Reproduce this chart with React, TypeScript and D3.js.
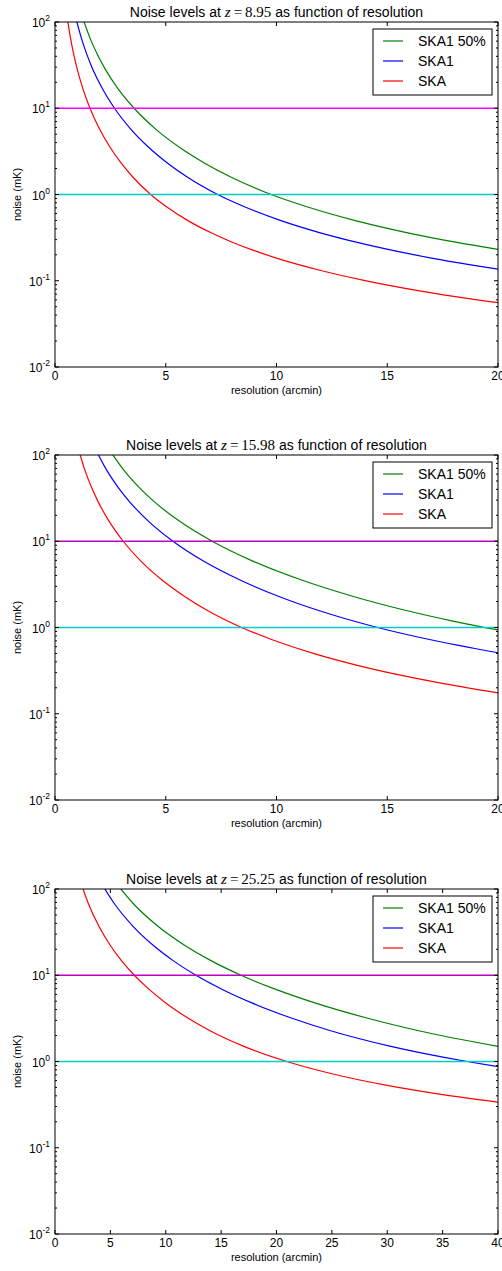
import React from 'react';
import * as d3 from 'd3';

type Pt = [number, number];

// z = 8.95
const p1Green: Pt[] = [[1.243, 113.2], [1.582, 65.0], [1.921, 41.6], [2.26, 28.6], [2.825, 17.13], [3.571, 10.0], [4.52, 5.81], [5.65, 3.48], [6.78, 2.29], [7.91, 1.606], [9.763, 1.0], [11.3, 0.7305], [13.56, 0.498], [15.82, 0.3643], [18.08, 0.28], [20, 0.2305]];
const p1Blue: Pt[] = [[0.935, 113.2], [1.19, 65.0], [1.445, 41.6], [1.7, 28.6], [2.125, 17.13], [2.686, 10.0], [3.4, 5.81], [4.25, 3.48], [5.1, 2.29], [5.95, 1.606], [7.344, 1.0], [8.5, 0.7305], [10.2, 0.498], [11.9, 0.3643], [13.6, 0.28], [15.3, 0.2232], [17.0, 0.1832], [18.7, 0.1537], [20, 0.136]];
const p1Red: Pt[] = [[0.55, 113.2], [0.7, 65.0], [0.85, 41.6], [1, 28.6], [1.25, 17.13], [1.58, 10.0], [2, 5.81], [2.5, 3.48], [3, 2.29], [3.5, 1.606], [4.32, 1.0], [5, 0.7305], [6, 0.498], [7, 0.3643], [8, 0.28], [9, 0.2232], [10, 0.1832], [11, 0.1537], [12, 0.1314], [14, 0.1003], [16, 0.08], [18, 0.0659], [20, 0.0557]];

// z = 15.98
const p2Green: Pt[] = [[2.47, 113.2], [3.143, 65.0], [3.817, 41.6], [4.49, 28.6], [5.613, 17.13], [7.094, 10.0], [8.98, 5.81], [11.23, 3.48], [13.47, 2.29], [15.72, 1.606], [17.96, 1.188], [20, 0.9376]];
const p2Blue: Pt[] = [[1.854, 113.2], [2.359, 65.0], [2.865, 41.6], [3.37, 28.6], [4.213, 17.13], [5.325, 10.0], [6.74, 5.81], [8.425, 3.48], [10.11, 2.29], [11.8, 1.606], [13.48, 1.188], [14.56, 1.0], [16.85, 0.7305], [20, 0.5096]];
const p2Red: Pt[] = [[1.073, 113.2], [1.365, 65.0], [1.658, 41.6], [1.95, 28.6], [2.438, 17.13], [3.081, 10.0], [3.9, 5.81], [4.875, 3.48], [5.85, 2.29], [6.825, 1.606], [8.424, 1.0], [9.75, 0.7305], [11.7, 0.498], [13.65, 0.3643], [15.6, 0.28], [17.55, 0.2232], [20, 0.1748]];

// z = 25.25
const p3Green: Pt[] = [[5.63, 112.0], [7.038, 68.4], [9.384, 36.2], [11.73, 22.12], [14.08, 14.78], [16.8, 10.0], [19.94, 6.85], [23.46, 4.78], [28.15, 3.196], [32.84, 2.274], [40, 1.5]];
const p3Blue: Pt[] = [[4.267, 112.0], [5.334, 68.4], [7.112, 36.2], [8.89, 22.12], [10.67, 14.78], [12.73, 10.0], [15.11, 6.85], [17.78, 4.78], [21.34, 3.196], [24.89, 2.274], [30.23, 1.508], [37.34, 0.994], [40, 0.874]];
const p3Red: Pt[] = [[2.4, 112.0], [3, 68.4], [4, 36.2], [5, 22.12], [6, 14.78], [7.16, 10.0], [8.5, 6.85], [10, 4.78], [12, 3.196], [14, 2.274], [17, 1.508], [21, 0.994], [25, 0.7216], [30, 0.528], [35, 0.413], [40, 0.338]];

const legendLabels = ['SKA1 50%', 'SKA1', 'SKA'];
const seriesColors = ['#008000', '#0000ff', '#ff0000'];
const yMajor = [0.01, 0.1, 1, 10, 100];
const yExp = ['-2', '-1', '0', '1', '2'];
const xTicks20 = [0, 5, 10, 15, 20];
const xTicks40 = [0, 5, 10, 15, 20, 25, 30, 35, 40];

const panels = [
  { top: 22, z: '8.95', xMax: 20, xTicks: xTicks20, series: [p1Green, p1Blue, p1Red], magenta: '#ff00ff', cyan: '#00cccc' },
  { top: 455, z: '15.98', xMax: 20, xTicks: xTicks20, series: [p2Green, p2Blue, p2Red], magenta: '#bf00bf', cyan: '#00cccc' },
  { top: 889, z: '25.25', xMax: 40, xTicks: xTicks40, series: [p3Green, p3Blue, p3Red], magenta: '#bf00bf', cyan: '#00cccc' },
];

const left = 55;
const right = 498;
const plotH = 345;
const font = '"Liberation Sans", Arial, sans-serif';
const mathFont = '"Liberation Serif", "DejaVu Serif", serif';

const Panel = ({ idx, top, z, xMax, xTicks, series, magenta, cyan }: any) => {
  const bottom = top + plotH;
  const x = d3.scaleLinear().domain([0, xMax]).range([left, right]);
  const y = d3.scaleLog().domain([0.01, 100]).range([bottom, top]);
  const line = d3.line<Pt>()
    .x((d) => x(d[0]))
    .y((d) => y(d[1]))
    .curve(d3.curveMonotoneX);

  const minor: number[] = [];
  [-2, -1, 0, 1].forEach((e) => {
    for (let k = 2; k <= 9; k++) minor.push(k * Math.pow(10, e));
  });

  const clipId = `clip${idx}`;
  const cx = (left + right) / 2;
  const lx = right - 125;
  const ly = top + 7;

  return (
    <g>
      <defs>
        <clipPath id={clipId}>
          <rect x={left} y={top} width={right - left} height={plotH} />
        </clipPath>
      </defs>
      <text x={cx} y={top - 5} textAnchor="middle" fontSize={14} fontFamily={font}>
        Noise levels at{' '}
        <tspan fontFamily={mathFont} fontStyle="italic" fontSize={15}>z</tspan>
        <tspan fontFamily={mathFont} fontSize={15}>{'\u2009=\u2009' + z}</tspan>
        {' '}as function of resolution
      </text>
      <g clipPath={`url(#${clipId})`}>
        {series.map((s: Pt[], i: number) => (
          <path key={i} d={line(s) || ''} fill="none" stroke={seriesColors[i]} strokeWidth={1.2} />
        ))}
        <line x1={left} x2={right} y1={y(10)} y2={y(10)} stroke={magenta} strokeWidth={1.3} />
        <line x1={left} x2={right} y1={y(1)} y2={y(1)} stroke={cyan} strokeWidth={1.3} />
      </g>
      {yMajor.map((v) => (
        <g key={'ym' + v}>
          <line x1={left} x2={left + 4} y1={y(v)} y2={y(v)} stroke="#000" />
          <line x1={right} x2={right - 4} y1={y(v)} y2={y(v)} stroke="#000" />
        </g>
      ))}
      {minor.map((v) => (
        <g key={'yn' + v}>
          <line x1={left} x2={left + 2} y1={y(v)} y2={y(v)} stroke="#000" />
          <line x1={right} x2={right - 2} y1={y(v)} y2={y(v)} stroke="#000" />
        </g>
      ))}
      {xTicks.map((v: number) => (
        <g key={'x' + v}>
          <line x1={x(v)} x2={x(v)} y1={bottom} y2={bottom - 4} stroke="#000" />
          <line x1={x(v)} x2={x(v)} y1={top} y2={top + 4} stroke="#000" />
          <text x={x(v)} y={bottom + 13} textAnchor="middle" fontSize={12} fontFamily={font}>{v}</text>
        </g>
      ))}
      {yMajor.map((v, i) => (
        <text key={'yl' + v} x={left - 5} y={y(v) + 5} textAnchor="end" fontSize={12} fontFamily={font}>
          10<tspan dy={-6} fontSize={8.5}>{yExp[i]}</tspan>
        </text>
      ))}
      <rect x={left} y={top} width={right - left} height={plotH} fill="none" stroke="#000" strokeWidth={1} />
      <text x={cx} y={bottom + 27} textAnchor="middle" fontSize={11} fontFamily={font}>resolution (arcmin)</text>
      <text transform={`translate(21,${top + plotH / 2}) rotate(-90)`} textAnchor="middle" fontSize={11} fontFamily={font}>noise (mK)</text>
      <rect x={lx} y={ly} width={119} height={66} fill="#fff" stroke="#000" strokeWidth={1} />
      {legendLabels.map((lab, i) => (
        <g key={lab}>
          <line x1={lx + 10} x2={lx + 30} y1={ly + 12 + i * 20} y2={ly + 12 + i * 20} stroke={seriesColors[i]} strokeWidth={1.2} />
          <text x={lx + 45} y={ly + 17 + i * 20} fontSize={14} fontFamily={font}>{lab}</text>
        </g>
      ))}
    </g>
  );
};

export default function App() {
  return (
    <svg width={502} height={1271} style={{ position: 'absolute', left: 0, top: 0, background: '#fff' }}>
      <rect width={502} height={1271} fill="#fff" />
      {panels.map((p, i) => (
        <Panel key={i} idx={i} {...p} />
      ))}
    </svg>
  );
}
